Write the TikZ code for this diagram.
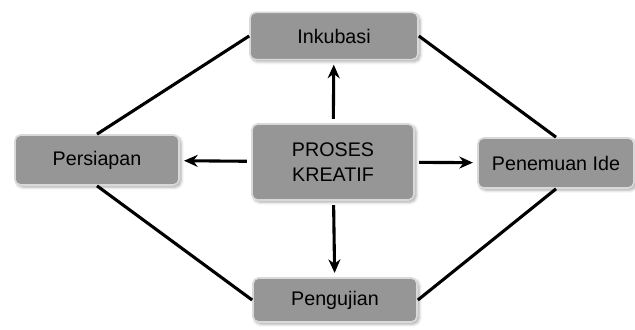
\documentclass[tikz,border=0pt]{standalone}
\usepackage{fontspec}
\setmainfont{Liberation Sans}
\usetikzlibrary{arrows.meta,positioning,shadows.blur}
\definecolor{boxgray}{HTML}{969696}

\begin{document}
\begin{tikzpicture}[x=0.025cm, y=-0.025cm,
  box/.style={rectangle, draw=gray!30, line width=1.2pt, fill=boxgray, minimum width=#1, align=center,
    font=\fontsize{14}{17.5}\selectfont, rounded corners=4pt, inner sep=2pt,
    blur shadow={shadow blur steps=4, shadow xshift=0.5mm, shadow yshift=-0.5mm, shadow opacity=35}},
  arr/.style={-{Stealth[length=3.4mm, width=3mm]}, line width=2.2pt, black, shorten <=3pt, shorten >=3pt},
  link/.style={line width=2.2pt, black}
]
  \useasboundingbox (0,0) rectangle (635,329);

  \node[box=4.2cm, minimum height=1.18cm] (inkubasi) at (334,36) {Inkubasi};
  \node[box=4.1cm, minimum height=1.25cm] (persiapan) at (97,160) {Persiapan};
  \node[box=4.05cm, minimum height=1.9cm] (proses) at (333,162) {PROSES\\KREATIF};
  \node[box=3.9cm, minimum height=1.25cm] (penemuan) at (556,163) {Penemuan Ide};
  \node[box=4.1cm, minimum height=1.1cm] (pengujian) at (335,300) {Pengujian};

  \draw[arr] (proses) -- (inkubasi);
  \draw[arr] (proses) -- (persiapan);
  \draw[arr] (proses) -- (penemuan);
  \draw[arr] (proses) -- (pengujian);

  \draw[link] (inkubasi.west) -- (persiapan.north);
  \draw[link] (inkubasi.east) -- (penemuan.north);
  \draw[link] (persiapan.south) -- (pengujian.west);
  \draw[link] (penemuan.south) -- (pengujian.east);
\end{tikzpicture}
\end{document}
